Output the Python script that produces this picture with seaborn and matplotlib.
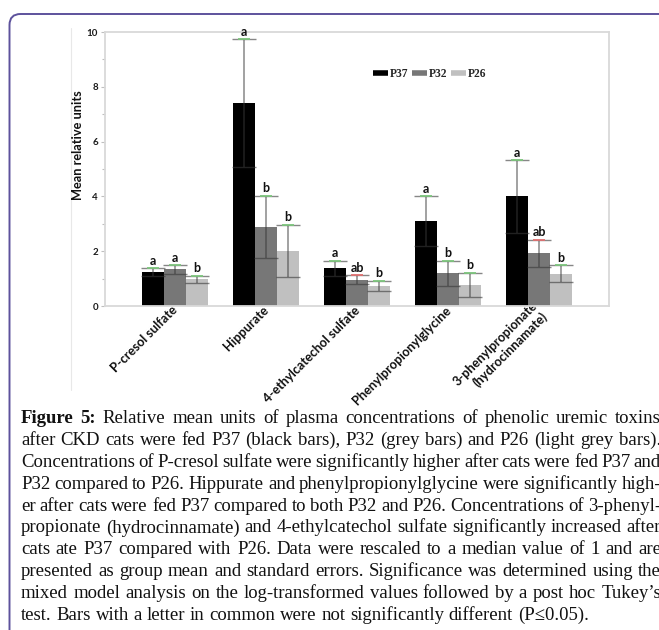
import numpy as np
import pandas as pd
import seaborn as sns
import matplotlib
matplotlib.use("Agg")
import matplotlib.pyplot as plt
from matplotlib.lines import Line2D
from matplotlib.patches import FancyBboxPatch
from matplotlib.transforms import IdentityTransform

# ---------------- data ----------------
compounds = ["P-cresol sulfate", "Hippurate", "4-ethylcatechol sulfate",
             "Phenylpropionylglycine", "3-phenylpropionate\n(hydrocinnamate)"]
diets = ["P37", "P32", "P26"]
p37 = [1.23, 7.40, 1.38, 3.10, 4.00]
p32 = [1.34, 2.90, 0.96, 1.20, 1.92]
p26 = [0.98, 2.01, 0.74, 0.77, 1.17]
p37_se = [0.15, 2.34, 0.28, 0.90, 1.32]
p32_se = [0.16, 1.13, 0.16, 0.46, 0.50]
p26_se = [0.13, 0.96, 0.19, 0.45, 0.31]
letters37 = ["a", "a", "a", "a", "a"]
letters32 = ["a", "b", "ab", "b", "ab"]
letters26 = ["b", "b", "b", "b", "b"]
yticks = [0, 2, 4, 6, 8, 10]
ylabel = "Mean relative units"

caption_lines = [
    "Figure 5: Relative mean units of plasma concentrations of phenolic uremic toxins",
    "after CKD cats were fed P37 (black bars), P32 (grey bars) and P26 (light grey bars).",
    "Concentrations of P-cresol sulfate were significantly higher after cats were fed P37 and",
    "P32 compared to P26. Hippurate and phenylpropionylglycine were significantly high-",
    "er after cats were fed P37 compared to both P32 and P26. Concentrations of 3-phenyl-",
    "propionate (hydrocinnamate) and 4-ethylcatechol sulfate significantly increased after",
    "cats ate P37 compared with P26. Data were rescaled to a median value of 1 and are",
    "presented as group mean and standard errors. Significance was determined using the",
    "mixed model analysis on the log-transformed values followed by a post hoc Tukey\u2019s",
    "test. Bars with a letter in common were not significantly different (P\u22640.05).",
]

# ---------------- style ----------------
sns.set_style("white")
plt.rcParams["font.family"] = ["Lato", "DejaVu Sans"]

colors = ["#000000", "#777777", "#c0c0c0"]

df = pd.DataFrame({
    "compound": compounds * 3,
    "diet": [d for d in diets for _ in compounds],
    "value": p37 + p32 + p26,
})
ses = [p37_se, p32_se, p26_se]
letters = [letters37, letters32, letters26]

W, H = 659, 630
fig = plt.figure(figsize=(W / 100, H / 100), dpi=100)
ax = fig.add_axes([105 / W, 1 - 306 / H, 504 / W, 274 / H])

sns.barplot(data=df, x="compound", y="value", hue="diet", order=compounds,
            hue_order=diets, palette=colors, saturation=1, width=0.725,
            errorbar=None, legend=False, linewidth=0, ax=ax)

bar_containers = list(ax.containers)
for i, cont in enumerate(bar_containers):
    for j, bar in enumerate(cont.patches):
        xc = bar.get_x() + bar.get_width() / 2
        h = bar.get_height()
        se = ses[i][j]
        ax.errorbar([xc], [h], yerr=[se], fmt="none", ecolor=(0.22, 0.22, 0.22, 0.6),
                    elinewidth=1.1, capsize=8.5, capthick=1.0, zorder=4)
        lab = letters[i][j]
        ucol = "#e07070" if lab == "ab" else "#7cc47c"
        ax.plot([xc], [h + se], marker="_", markersize=9, markeredgewidth=1.3,
                color=ucol, zorder=5, linestyle="none")
        ax.annotate(lab, (xc, h + se), xytext=(0, 1.0), textcoords="offset points",
                    ha="center", va="bottom", fontsize=9, fontweight="bold",
                    color="#111111", zorder=6)

ax.set_xlim(-0.769, 4.769)
ax.set_ylim(0, 10)
ax.set_yticks(yticks)
ax.set_yticks([1, 3, 5, 7, 9], minor=True)
ax.set_xlabel("")
ax.set_ylabel("")
for s in ax.spines.values():
    s.set_color("#d9d9d9")
    s.set_linewidth(1.3)
ax.tick_params(axis="y", which="both", left=True, length=3, width=0.8,
               color="#bfbfbf", labelsize=7, labelcolor="#1a1a1a", pad=2)
ax.tick_params(axis="y", which="minor", length=2)
ax.tick_params(axis="x", length=0, pad=1, labelsize=9.2, labelcolor="#111111")
for t in ax.get_yticklabels():
    t.set_fontweight("bold")
ax.set_xticks(range(len(compounds)))
ax.set_xticklabels(compounds)
for t in ax.get_xticklabels():
    t.set_fontweight("bold")
    t.set_rotation(45)
    t.set_ha("right")
    t.set_va("center_baseline")
    t.set_rotation_mode("anchor")

fig.text(78 / W, 1 - 145 / H, ylabel, rotation=90, ha="center", va="center",
         fontsize=9.2, fontweight="bold", color="#111111")

handles = [Line2D([], [], color=c, lw=4, solid_capstyle="butt") for c in colors]
fig.legend(handles, diets, loc="center left", bbox_to_anchor=(373 / W, 1 - 74 / H),
           ncol=3, frameon=False, handlelength=1.3, handletextpad=0.18,
           columnspacing=0.3, borderpad=0, borderaxespad=0,
           prop={"family": "Liberation Serif", "weight": "bold", "size": 8.3})

# ---------------- frame ----------------
frame = FancyBboxPatch((9.5, -60), 900, H - 14 - (-60),
                       boxstyle="round,pad=0,rounding_size=11",
                       transform=IdentityTransform(), fill=False,
                       edgecolor="#5d529c", linewidth=1.4)
fig.add_artist(frame)
fig.add_artist(Line2D([70.5, 70.5], [H - 28, H - 390], transform=IdentityTransform(),
                      color="#e8e8e8", lw=0.8))

# ---------------- caption (justified) ----------------
renderer = fig.canvas.get_renderer()
cap_fs = 13.5
left_px, right_px = 21.0, 661.0
base0, step = 423.0, 21.9


def wwidth(s, bold):
    t = fig.text(0, 0, s, fontsize=cap_fs, family="Liberation Serif",
                 fontweight="bold" if bold else "normal")
    w = t.get_window_extent(renderer).width
    t.remove()
    return w


space_w = wwidth("x x", False) - wwidth("xx", False)

for li, line in enumerate(caption_lines):
    words = line.split(" ")
    bold_flags = [li == 0 and k < 2 for k in range(len(words))]
    widths = [wwidth(w, b) for w, b in zip(words, bold_flags)]
    last = li == len(caption_lines) - 1
    if last or len(words) < 2:
        gap = space_w
    else:
        gap = max((right_px - left_px - sum(widths)) / (len(words) - 1), 0.6 * space_w)
    x = left_px
    y = H - (base0 + step * li)
    for w, b, wd in zip(words, bold_flags, widths):
        fig.text(x / W, y / H, w, fontsize=cap_fs, family="Liberation Serif",
                 fontweight="bold" if b else "normal", ha="left", va="baseline",
                 color="#111111")
        x += wd + gap

fig.savefig("out.png", dpi=100)
